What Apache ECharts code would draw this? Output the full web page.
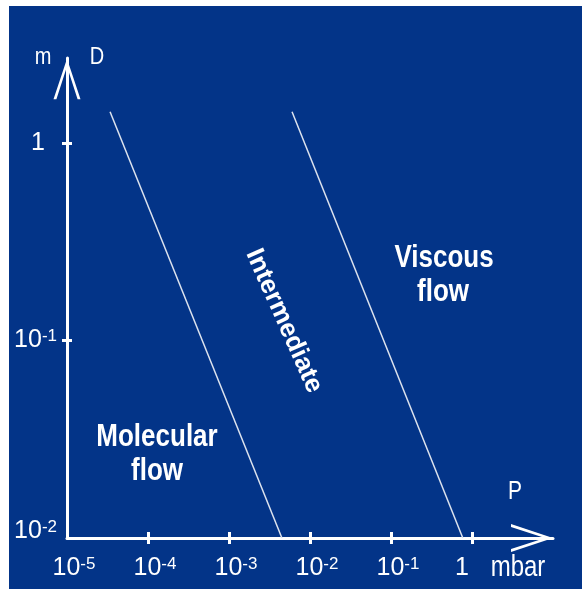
<!DOCTYPE html>
<html><head><meta charset="utf-8">
<script src="https://cdn.jsdelivr.net/npm/echarts@6/dist/echarts.min.js"></script>
<style>html,body{margin:0;padding:0;background:#fff;}#c{width:582px;height:589px;}</style>
</head><body><div id="c"></div>
<script>
// Pressure axis (mbar) – decades shown as ticks
const xTickExponents = [-5, -4, -3, -2, -1, 0];
// Diameter axis (m) – decades shown as ticks
const yTickExponents = [-2, -1, 0];
// Boundary molecular / intermediate flow (p, D)
const molecularBoundaryP = [3.4e-5, 4.5e-3];
const molecularBoundaryD = [1.44, 0.01];
// Boundary intermediate / viscous flow (p, D)
const viscousBoundaryP = [6.0e-3, 0.77];
const viscousBoundaryD = [1.44, 0.01];

const FONT = '"Liberation Sans",Arial,Helvetica,sans-serif';
const WHITE = '#ffffff';
const BG = '#033488';
const ARROW = 'path://M14,0 L28,42 L25,42 L14,8 L3,42 L0,42 Z';

const toLog = (ps, ds) => ps.map((p, i) => [Math.log10(p), Math.log10(ds[i])]);

function xFmt(v) {
  if (v === 0) return '{one|1}';
  return '{b|10}{s|' + v + '}';
}
function yFmt(v) {
  if (v === 0) return '{one|1}';
  if (v === -2) return '{b2|10}{s|' + v + '}';
  return '{b|10}{s|' + v + '}';
}
function txt(text, x, y, font, sy, rot) {
  return {type: 'text', x: x, y: y, scaleY: sy, rotation: rot || 0,
    style: {text: text, fill: WHITE, font: font, textAlign: 'center', textVerticalAlign: 'middle'}};
}

const chart = echarts.init(document.getElementById('c'), null, {renderer: 'canvas'});
const axisCommonX = {type: 'value', min: -5, max: 1, gridIndex: 0, splitLine: {show: false}};
const axisCommonY = {type: 'value', min: -2, max: 0.43, gridIndex: 0, splitLine: {show: false}};

chart.setOption({
  animation: false,
  backgroundColor: '#ffffff',
  grid: {left: 67, right: 29, top: 58, bottom: 51, containLabel: false},
  graphic: [
    {type: 'rect', z: -100, silent: true, shape: {x: 9, y: 6, width: 573, height: 583}, style: {fill: BG}},
    txt('m', 43, 57, '20px ' + FONT, 1.2),
    txt('D', 97, 57, '20px ' + FONT, 1.2),
    txt('P', 515, 492, '21px ' + FONT, 1.2),
    txt('mbar', 518, 568, '24px ' + FONT, 1.2),
    txt('Molecular', 157, 437, 'bold 26px ' + FONT, 1.2),
    txt('flow', 157, 471, 'bold 26px ' + FONT, 1.2),
    txt('Viscous', 444, 258, 'bold 26px ' + FONT, 1.2),
    txt('flow', 443, 292, 'bold 26px ' + FONT, 1.2),
    txt('Intermediate', 284, 321, 'bold 26px ' + FONT, 1, -1.15)
  ],
  xAxis: [
    Object.assign({}, axisCommonX, {
      position: 'bottom',
      axisLine: {show: true, onZero: false, lineStyle: {color: WHITE, width: 3}, symbol: ['none', ARROW], symbolSize: [28, 42], symbolOffset: [0, -21]},
      axisTick: {show: true, length: 6, lineStyle: {color: WHITE, width: 3}, customValues: xTickExponents.slice(1)},
      axisLabel: {
        show: true, margin: 18, customValues: xTickExponents, formatter: xFmt,
        rich: {
          b: {fontSize: 25, fontFamily: FONT, color: WHITE, padding: [0, 0, 0, 14]},
          s: {fontSize: 17, fontFamily: FONT, color: WHITE, verticalAlign: 'top'},
          one: {fontSize: 25, fontFamily: FONT, color: WHITE, padding: [0, 20, 0, 0]}
        }
      }
    }),
    Object.assign({}, axisCommonX, {
      position: 'bottom',
      axisLine: {show: false, onZero: false},
      axisTick: {show: true, inside: true, length: 6, lineStyle: {color: WHITE, width: 3}, customValues: xTickExponents.slice(1)},
      axisLabel: {show: false}
    })
  ],
  yAxis: [
    Object.assign({}, axisCommonY, {
      position: 'left',
      axisLine: {show: true, onZero: false, lineStyle: {color: WHITE, width: 3}, symbol: ['none', ARROW], symbolSize: [27, 42], symbolOffset: [0, -21]},
      axisTick: {show: true, length: 5, lineStyle: {color: WHITE, width: 3}, customValues: yTickExponents.slice(1)},
      axisLabel: {
        show: true, margin: 10, customValues: yTickExponents, formatter: yFmt,
        rich: {
          b: {fontSize: 25, fontFamily: FONT, color: WHITE},
          b2: {fontSize: 25, fontFamily: FONT, color: WHITE, padding: [0, 0, 14, 0]},
          s: {fontSize: 17, fontFamily: FONT, color: WHITE, verticalAlign: 'top'},
          one: {fontSize: 25, fontFamily: FONT, color: WHITE, padding: [0, 12, 0, 0]}
        }
      }
    }),
    Object.assign({}, axisCommonY, {
      position: 'left',
      axisLine: {show: false, onZero: false},
      axisTick: {show: true, inside: true, length: 5, lineStyle: {color: WHITE, width: 3}, customValues: yTickExponents.slice(1)},
      axisLabel: {show: false}
    })
  ],
  series: [
    {type: 'line', name: 'molecular', xAxisIndex: 0, yAxisIndex: 0, data: toLog(molecularBoundaryP, molecularBoundaryD),
     symbol: 'none', lineStyle: {color: '#dde3ee', width: 1.5}, z: 3},
    {type: 'line', name: 'viscous', xAxisIndex: 0, yAxisIndex: 0, data: toLog(viscousBoundaryP, viscousBoundaryD),
     symbol: 'none', lineStyle: {color: '#dde3ee', width: 1.5}, z: 3}
  ]
});
</script></body></html>
